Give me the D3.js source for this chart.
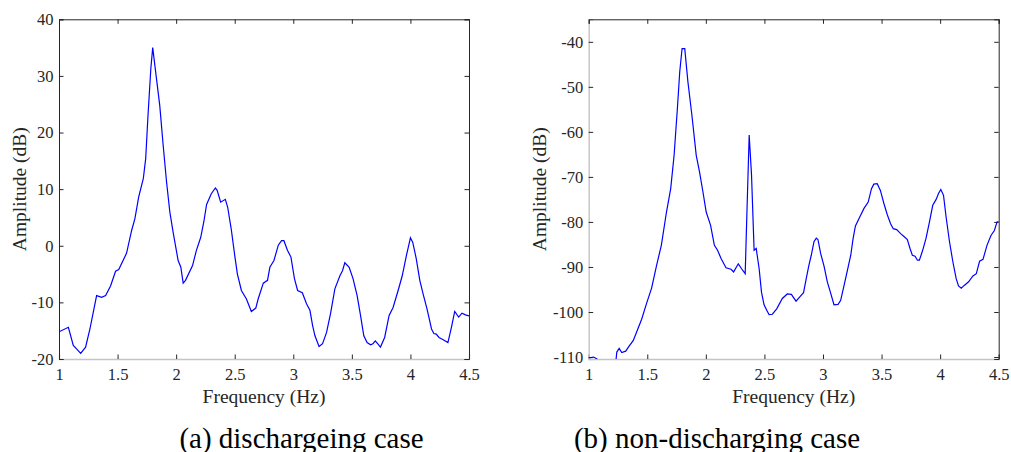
<!DOCTYPE html>
<html>
<head>
<meta charset="utf-8">
<script src="https://cdn.jsdelivr.net/npm/d3@7"></script>
<style>
  body { margin: 0; background: #fff; }
  svg, svg text { font-family: "Liberation Serif", "Times New Roman", serif; }
  svg { display: block; }
  .tick text { fill: #262626; }
</style>
</head>
<body>
<svg id="chart" width="1011" height="452"></svg>
<script>
// ---- data ----
var freqA = [1.0, 1.08, 1.122, 1.15, 1.185, 1.227, 1.264, 1.321, 1.364, 1.398, 1.44, 1.483, 1.51, 1.577, 1.62, 1.648, 1.68, 1.72, 1.74, 1.76, 1.784, 1.80, 1.818, 1.86, 1.889, 1.918, 1.946, 1.974, 2.017, 2.04, 2.06, 2.08, 2.14, 2.173, 2.21, 2.236, 2.26, 2.30, 2.335, 2.35, 2.38, 2.42, 2.44, 2.47, 2.5, 2.523, 2.557, 2.6, 2.642, 2.68, 2.70, 2.744, 2.78, 2.80, 2.835, 2.872, 2.90, 2.92, 2.95, 2.98, 3.01, 3.037, 3.077, 3.114, 3.142, 3.165, 3.185, 3.22, 3.25, 3.284, 3.318, 3.355, 3.398, 3.42, 3.44, 3.477, 3.51, 3.545, 3.574, 3.602, 3.63, 3.66, 3.68, 3.70, 3.72, 3.744, 3.78, 3.818, 3.852, 3.895, 3.93, 3.966, 3.986, 4.0, 4.02, 4.05, 4.08, 4.108, 4.142, 4.18, 4.2, 4.22, 4.244, 4.28, 4.32, 4.35, 4.378, 4.412, 4.44, 4.47, 4.5];
var ampA = [-15.2, -14.4, -17.6, -18.2, -19.0, -17.9, -14.7, -8.8, -9.1, -8.8, -7.1, -4.5, -4.2, -1.3, 2.7, 4.8, 8.6, 11.9, 15.4, 23.1, 31.3, 35.0, 31.9, 24.8, 17.8, 11.3, 6.0, 2.4, -2.6, -3.8, -6.6, -6.1, -3.5, -0.8, 1.5, 4.2, 7.3, 9.2, 10.2, 9.8, 7.7, 8.2, 6.8, 3.0, -1.7, -5.0, -7.9, -9.4, -11.6, -11.0, -9.4, -6.6, -6.1, -3.8, -2.6, 0.1, 0.9, 0.9, -0.8, -2.0, -5.8, -7.9, -8.3, -10.3, -11.4, -14.1, -15.9, -17.8, -17.3, -15.3, -12.0, -7.6, -5.3, -4.4, -3.0, -3.8, -5.8, -8.8, -12.3, -15.9, -17.1, -17.5, -17.3, -16.8, -17.3, -17.9, -16.2, -12.3, -10.9, -7.9, -5.3, -1.7, 0.1, 1.4, 0.6, -2.3, -6.1, -8.5, -11.2, -14.7, -15.5, -15.6, -16.2, -16.6, -17.1, -14.4, -11.6, -12.6, -11.9, -12.2, -12.4];

var freqB = [1.006, 1.042, 1.07, 1.08, 1.15, 1.22, 1.234, 1.24, 1.26, 1.282, 1.316, 1.345, 1.381, 1.41, 1.452, 1.494, 1.537, 1.58, 1.62, 1.664, 1.70, 1.729, 1.757, 1.777, 1.797, 1.82, 1.847, 1.881, 1.918, 1.946, 1.975, 2.003, 2.04, 2.073, 2.10, 2.13, 2.172, 2.215, 2.237, 2.277, 2.305, 2.336, 2.35, 2.37, 2.39, 2.412, 2.43, 2.455, 2.475, 2.497, 2.52, 2.54, 2.568, 2.605, 2.653, 2.695, 2.73, 2.77, 2.80, 2.834, 2.857, 2.88, 2.90, 2.923, 2.943, 2.957, 2.98, 3.009, 3.037, 3.063, 3.094, 3.129, 3.151, 3.18, 3.209, 3.237, 3.257, 3.277, 3.314, 3.35, 3.386, 3.414, 3.434, 3.463, 3.49, 3.52, 3.549, 3.577, 3.60, 3.629, 3.663, 3.694, 3.72, 3.743, 3.763, 3.786, 3.806, 3.823, 3.851, 3.88, 3.909, 3.937, 3.966, 3.986, 4.006, 4.029, 4.051, 4.08, 4.109, 4.137, 4.157, 4.18, 4.206, 4.243, 4.28, 4.309, 4.337, 4.366, 4.40, 4.434, 4.463, 4.486, 4.5];
var ampB = [-110.2, -110.0, -110.4, -111.5, -114.0, -112.0, -110.4, -108.9, -108.1, -109.0, -108.7, -107.6, -106.3, -104.4, -101.6, -98.1, -94.7, -89.6, -85.2, -77.8, -72.6, -65.2, -54.8, -46.7, -41.5, -41.5, -48.9, -56.3, -65.2, -68.9, -73.3, -77.8, -80.7, -85.2, -86.3, -88.1, -90.2, -90.5, -91.1, -89.3, -90.4, -91.5, -78.5, -60.7, -69.6, -86.3, -85.9, -90.4, -95.6, -98.4, -99.6, -100.6, -100.5, -99.3, -97.0, -96.0, -96.1, -97.6, -96.7, -95.7, -92.6, -89.6, -87.4, -84.4, -83.6, -83.9, -87.0, -89.8, -93.3, -95.6, -98.4, -98.3, -97.4, -94.1, -90.7, -87.4, -83.7, -80.9, -78.9, -77.0, -75.6, -72.6, -71.6, -71.5, -73.0, -75.9, -78.4, -80.4, -81.5, -81.7, -82.6, -83.3, -83.9, -85.9, -87.4, -87.6, -88.5, -88.5, -86.3, -83.6, -80.0, -76.3, -75.0, -73.7, -72.8, -74.1, -78.9, -84.4, -88.9, -92.6, -94.2, -94.7, -94.1, -93.3, -92.0, -91.5, -88.7, -88.3, -85.2, -83.0, -81.9, -80.0, -79.9];

var xTicks = [1, 1.5, 2, 2.5, 3, 3.5, 4, 4.5];
var yTicksA = [-20, -10, 0, 10, 20, 30, 40];
var yTicksB = [-110, -100, -90, -80, -70, -60, -50, -40];
var captions = ["(a) dischargeing case", "(b) non-discharging case"];

var FONT = "'Liberation Serif', 'Times New Roman', serif";
var svg = d3.select("#chart");
svg.append("rect").attr("width", 1011).attr("height", 452).attr("fill", "#fff");

function drawPanel(id, left, freq, amp, yDomain, yTicks, leftGray, ylabelX, caption, captionX) {
  var top = 19.3, width = 410, height = 339.7;
  var x = d3.scaleLinear().domain([1, 4.5]).range([0, width]);
  var y = d3.scaleLinear().domain(yDomain).range([height, 0]);
  var g = svg.append("g").attr("transform", "translate(" + left + "," + top + ")");

  g.append("clipPath").attr("id", "clip" + id)
    .append("rect").attr("width", width).attr("height", height);

  var fmt = function (d) { return String(d); };

  // bottom / left with labels
  var gx = g.append("g").attr("transform", "translate(0," + height + ")")
    .call(d3.axisBottom(x).tickValues(xTicks).tickSize(-4.5).tickPadding(9).tickFormat(fmt));
  var gy = g.append("g")
    .call(d3.axisLeft(y).tickValues(yTicks).tickSize(-4.5).tickPadding(5.5).tickFormat(fmt));
  // top / right ticks only
  var gt = g.append("g")
    .call(d3.axisTop(x).tickValues(xTicks).tickSize(-4.5).tickFormat(""));
  var gr = g.append("g").attr("transform", "translate(" + width + ",0)")
    .call(d3.axisRight(y).tickValues(yTicks).tickSize(-4.5).tickFormat(""));

  [gx, gy, gt, gr].forEach(function (a) {
    a.attr("font-family", FONT).attr("font-size", 16.5);
    a.selectAll(".tick line").attr("stroke", "#262626");
    a.selectAll(".domain").attr("stroke", "#262626");
  });
  gx.select(".domain").attr("stroke", "#c4c4c4").attr("stroke-width", 1.4);
  if (leftGray) gy.select(".domain").attr("stroke", "#c4c4c4").attr("stroke-width", 1.4);

  var line = d3.line()
    .x(function (d, i) { return x(freq[i]); })
    .y(function (d) { return y(d); });

  g.append("path")
    .datum(amp)
    .attr("clip-path", "url(#clip" + id + ")")
    .attr("fill", "none")
    .attr("stroke", "#0000ff")
    .attr("stroke-width", 1.2)
    .attr("d", line);

  g.append("text")
    .attr("x", width / 2).attr("y", 403 - top)
    .attr("text-anchor", "middle")
    .attr("font-size", 19.5)
    .attr("fill", "#262626")
    .text("Frequency (Hz)");

  g.append("text")
    .attr("transform", "translate(" + (ylabelX - left) + "," + (height / 2) + ") rotate(-90)")
    .attr("text-anchor", "middle")
    .attr("font-size", 19.5)
    .attr("fill", "#262626")
    .text("Amplitude (dB)");

  svg.append("text")
    .attr("x", captionX).attr("y", 448)
    .attr("text-anchor", "middle")
    .attr("font-size", 29)
    .attr("fill", "#000")
    .text(caption);
}

drawPanel("A", 59, freqA, ampA, [-20, 40], yTicksA, false, 26, captions[0], 301.5);
drawPanel("B", 588.7, freqB, ampB, [-110.44, -35], yTicksB, true, 546, captions[1], 717);
</script>
</body>
</html>
